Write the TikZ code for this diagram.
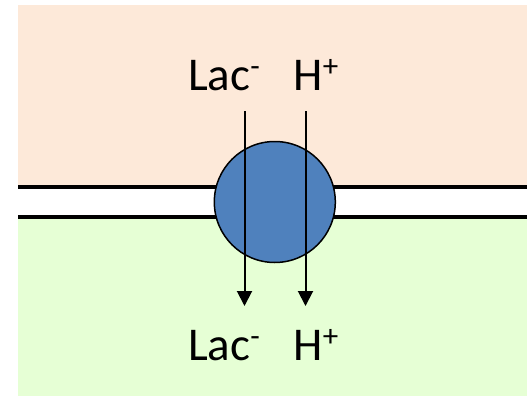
\documentclass[tikz,border=0pt]{standalone}
\usepackage{fontspec}
\setmainfont{Carlito}
\usetikzlibrary{arrows.meta}
\definecolor{outside}{RGB}{253,233,217}
\definecolor{inside}{RGB}{230,255,213}
\definecolor{carrier}{RGB}{79,129,189}
\newcommand{\supsign}[1]{\raisebox{14pt}{\fontsize{31}{31}\selectfont #1}}
\tikzset{
  ion/.style={font=\fontsize{47}{56}\selectfont, inner sep=0pt, anchor=base west},
  membrane/.style={line width=4pt},
  flux/.style={line width=2pt, -{Triangle[width=15pt,length=15pt]}},
  transporter/.style={circle, draw=black, line width=1.5pt, fill=carrier,
    minimum size=121pt, inner sep=0pt}
}
\begin{document}
\begin{tikzpicture}[x=1pt, y=-1pt]
  \useasboundingbox (0,0) rectangle (527,396);
  % compartments
  \fill[outside] (18,5) rectangle (527,187);
  \fill[inside] (18,217) rectangle (527,396);
  % lipid bilayer
  \draw[membrane] (18,187) -- (527,187);
  \draw[membrane] (18,217) -- (527,217);
  % monocarboxylate transporter
  \node[transporter] (mct) at (274.8,202) {};
  % ion labels
  \node[ion] (lacout) at (188,90) {Lac\supsign{-}};
  \node[ion] (hout) at (293.5,90) {H\supsign{+}};
  \node[ion] (lacin) at (188,360) {Lac\supsign{-}};
  \node[ion] (hin) at (293.5,360) {H\supsign{+}};
  % co-transport arrows
  \coordinate (lacstart) at (244.5,111);
  \coordinate (lacend) at (244.5,306);
  \coordinate (hstart) at (305.5,111);
  \coordinate (hend) at (305.5,306);
  \draw[flux] (lacstart) -- (lacend);
  \draw[flux] (hstart) -- (hend);
\end{tikzpicture}
\end{document}
